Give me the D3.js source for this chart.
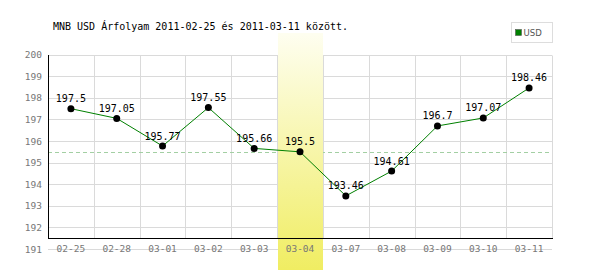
<!DOCTYPE html>
<html>
<head>
<meta charset="utf-8">
<script src="https://cdn.jsdelivr.net/npm/d3@7"></script>
<style>
  body { margin: 0; background: #fff; }
  svg { display: block; }
</style>
</head>
<body>
<svg id="chart" width="600" height="270"></svg>
<script>
const title = 'MNB USD Árfolyam 2011-02-25 és 2011-03-11 között.';
const dates = ['02-25', '02-28', '03-01', '03-02', '03-03', '03-04', '03-07', '03-08', '03-09', '03-10', '03-11'];
const usd = [197.5, 197.05, 195.77, 197.55, 195.66, 195.5, 193.46, 194.61, 196.7, 197.07, 198.46];
const yTicks = [191, 192, 193, 194, 195, 196, 197, 198, 199, 200];
const highlight = '03-04';
const refValue = 195.5;

const mono = '"DejaVu Sans Mono", monospace';
const plotLeft = 48, plotRight = 552, plotTop = 54.7, plotBottom = 249, axisY = 238;

const svg = d3.select('#chart');

const x = d3.scaleBand().domain(dates).range([plotLeft, plotRight]);
const y = d3.scaleLinear().domain([191, 200]).range([plotBottom, plotTop]);
const cx = (d, i) => x(dates[i]) + x.bandwidth() / 2;

// gradient for highlighted day
const grad = svg.append('defs').append('linearGradient')
  .attr('id', 'hl').attr('x1', 0).attr('y1', 0).attr('x2', 0).attr('y2', 1);
grad.append('stop').attr('offset', '0%').attr('stop-color', '#fefef0');
grad.append('stop').attr('offset', '100%').attr('stop-color', '#f0ed62');

// title
svg.append('text')
  .attr('x', 53).attr('y', 29.5)
  .attr('font-family', mono).attr('font-size', 10)
  .attr('fill', '#000')
  .text(title);

// legend
const legend = svg.append('g');
legend.append('rect')
  .attr('x', 511.5).attr('y', 22.5).attr('width', 41).attr('height', 20)
  .attr('fill', '#fff').attr('stroke', '#ddd');
legend.append('rect')
  .attr('x', 515.5).attr('y', 29.5).attr('width', 6).attr('height', 6)
  .attr('fill', '#008000').attr('stroke', '#555').attr('stroke-width', 0.6);
legend.append('text')
  .attr('x', 523.5).attr('y', 36.3)
  .attr('font-family', '"DejaVu Sans Condensed", "DejaVu Sans", sans-serif')
  .attr('font-size', 9.5).attr('fill', '#555')
  .text('USD');

// horizontal grid
svg.append('g')
  .selectAll('line')
  .data(yTicks)
  .join('line')
  .attr('x1', plotLeft).attr('x2', plotRight)
  .attr('y1', d => Math.round(y(d)) + 0.5).attr('y2', d => Math.round(y(d)) + 0.5)
  .attr('stroke', '#dadada');

// vertical grid at band edges
svg.append('g')
  .selectAll('line')
  .data(dates.slice(1).concat(['end']))
  .join('line')
  .attr('x1', d => Math.round(d === 'end' ? plotRight : x(d)) + 0.5)
  .attr('x2', d => Math.round(d === 'end' ? plotRight : x(d)) + 0.5)
  .attr('y1', Math.round(plotTop) + 0.5).attr('y2', axisY)
  .attr('stroke', '#dadada');

// reference dashed line
svg.append('line')
  .attr('x1', plotLeft).attr('x2', plotRight)
  .attr('y1', Math.round(y(refValue)) + 0.5).attr('y2', Math.round(y(refValue)) + 0.5)
  .attr('stroke', '#a3cfa3').attr('stroke-dasharray', '4,3');

// highlighted day
svg.append('rect')
  .attr('x', Math.round(x(highlight)) + 1).attr('y', 33)
  .attr('width', Math.round(x.bandwidth()) - 1).attr('height', 270 - 33)
  .attr('fill', 'url(#hl)');

// axes lines
svg.append('line')
  .attr('x1', plotLeft + 0.5).attr('x2', plotLeft + 0.5)
  .attr('y1', Math.round(plotTop)).attr('y2', axisY + 1)
  .attr('stroke', '#000');
svg.append('line')
  .attr('x1', plotLeft).attr('x2', plotRight + 1)
  .attr('y1', axisY + 0.5).attr('y2', axisY + 0.5)
  .attr('stroke', '#000');

// y tick labels
svg.append('g')
  .selectAll('text')
  .data(yTicks)
  .join('text')
  .attr('x', 42).attr('y', d => y(d) + 3.5)
  .attr('text-anchor', 'end')
  .attr('font-family', mono).attr('font-size', 9.5)
  .attr('fill', '#777')
  .text(d => d);

// x tick labels
svg.append('g')
  .selectAll('text')
  .data(dates)
  .join('text')
  .attr('x', d => x(d) + x.bandwidth() / 2).attr('y', 252)
  .attr('text-anchor', 'middle')
  .attr('font-family', mono).attr('font-size', 9.5)
  .attr('fill', '#777')
  .text(d => d);

// series line
const line = d3.line().x(cx).y(d => y(d));

svg.append('path')
  .datum(usd)
  .attr('d', line)
  .attr('fill', 'none')
  .attr('stroke', '#008000')
  .attr('stroke-width', 1);

// points
svg.append('g')
  .selectAll('circle')
  .data(usd)
  .join('circle')
  .attr('cx', cx)
  .attr('cy', d => y(d))
  .attr('r', 3.5)
  .attr('fill', '#000');

// value labels
svg.append('g')
  .selectAll('text')
  .data(usd)
  .join('text')
  .attr('x', cx)
  .attr('y', d => y(d) - 6.5)
  .attr('text-anchor', 'middle')
  .attr('font-family', mono).attr('font-size', 10)
  .attr('fill', '#000')
  .text(d => d);
</script>
</body>
</html>
